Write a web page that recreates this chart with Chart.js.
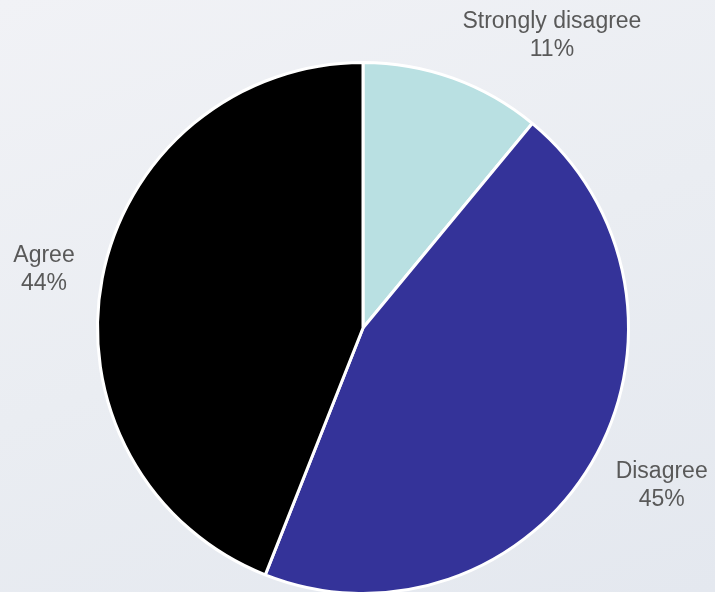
<!DOCTYPE html>
<html>
<head>
<meta charset="utf-8">
<script src="https://cdn.jsdelivr.net/npm/chart.js@4"></script>
<style>
    html, body {
        margin: 0;
        padding: 0;
        overflow: hidden;
        width: 715px;
        height: 592px;
        background: linear-gradient(160deg, #f1f2f6 0%, #eaedf2 50%, #e4e8ef 100%);
    }
    #wrap {
        width: 715px;
        height: 600px;
        position: relative;
    }
</style>
</head>
<body>
<div id="wrap">
    <canvas id="pie-chart-id"></canvas>
</div>
<script>
const LABELS = ['Strongly disagree', 'Disagree', 'Agree']
const VALUES = [11, 45, 44]
const COLORS = ['#b9e0e2', '#343399', '#000000']

const TEXT_COLOR = '#595959'
const FONT = '23px "Liberation Sans", Arial, sans-serif'
const LINE_HEIGHT = 28

// draws "Label / NN%" outside each slice, roughly like the office chart does
const outsideLabels = {
    id: 'outsideLabels',
    afterDatasetsDraw(chart) {
        const ctx = chart.ctx
        const meta = chart.getDatasetMeta(0)
        const total = VALUES.reduce((a, b) => a + b, 0)
        ctx.save()
        ctx.font = FONT
        ctx.fillStyle = TEXT_COLOR
        ctx.textAlign = 'center'
        ctx.textBaseline = 'middle'
        meta.data.forEach((arc, i) => {
            const p = arc.getProps(['x', 'y', 'startAngle', 'endAngle', 'outerRadius'], true)
            const mid = (p.startAngle + p.endAngle) / 2
            const d = p.outerRadius + 28
            const ax = p.x + Math.cos(mid) * d
            const ay = p.y + Math.sin(mid) * d
            const lines = [LABELS[i], Math.round(VALUES[i] / total * 100) + '%']
            const w = Math.max(...lines.map(t => ctx.measureText(t).width))
            const h = lines.length * LINE_HEIGHT
            const cx = ax + Math.sign(Math.cos(mid)) * w / 2
            const cy = ay + Math.sin(mid) * h / 2 * 0.6
            lines.forEach((t, k) => {
                ctx.fillText(t, cx, cy - h / 2 + LINE_HEIGHT / 2 + k * LINE_HEIGHT)
            })
        })
        ctx.restore()
    }
}

const el = document.getElementById('pie-chart-id')

const chart = new Chart(el, {
    type: 'pie',
    data: {
        labels: LABELS,
        datasets: [{
            data: VALUES,
            backgroundColor: COLORS,
            borderColor: '#ffffff',
            borderWidth: 3
        }]
    },
    options: {
        responsive: true,
        maintainAspectRatio: false,
        animation: false,
        layout: {
            padding: { top: 61, bottom: 5, left: 96, right: 85 }
        },
        plugins: {
            legend: { display: false },
            tooltip: { enabled: false }
        }
    },
    plugins: [outsideLabels]
})
</script>
</body>
</html>
